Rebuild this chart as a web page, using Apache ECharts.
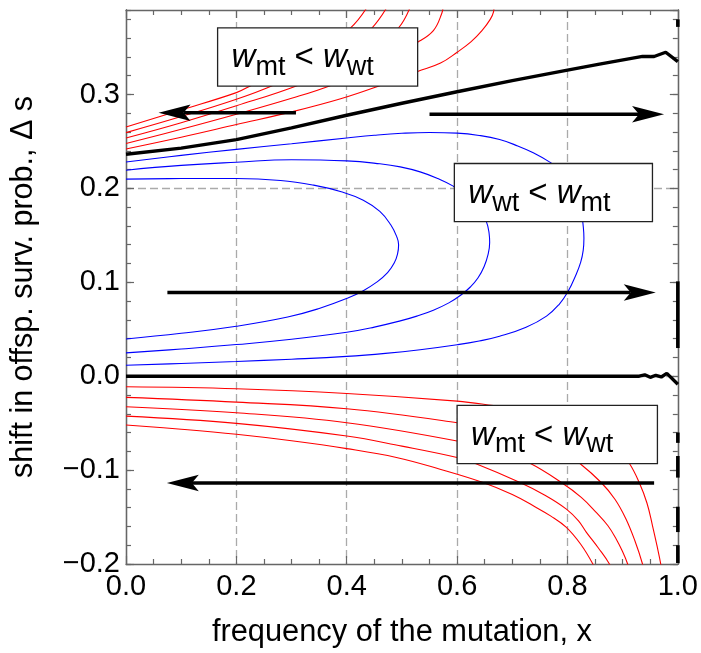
<!DOCTYPE html>
<html><head><meta charset="utf-8">
<script src="https://cdn.jsdelivr.net/npm/echarts@6/dist/echarts.min.js"></script>
<style>html,body{margin:0;padding:0;background:#fff}#c{width:701px;height:653px}</style>
</head><body><div id="c"></div>
<script>
// ---------- data ----------
const xTickLabels = ['0.0','0.2','0.4','0.6','0.8','1.0'];
const yTickLabels = ['\u22120.2','\u22120.1','0.0','0.1','0.2','0.3'];

const separatrixUpper = [[0,0.2364],[0.1,0.2429],[0.2,0.2519],[0.3,0.2644],[0.4,0.2779],[0.5,0.2907],[0.6,0.3029],[0.7,0.3147],[0.8,0.3260],[0.858,0.3324],[0.936,0.3406],[0.957,0.3405],[0.978,0.3450],[1.0,0.3350]];
const separatrixZero = [[0,0],[0.93,0],[0.94,0.0015],[0.95,-0.0012],[0.96,0.001],[0.97,-0.0008],[0.98,0.003],[1.0,-0.0085]];

const blueInner = [[0,0.2099],[0.1,0.2105],[0.2,0.2106],[0.28,0.2085],[0.34,0.2035],[0.39,0.1965],[0.43,0.1875],[0.46,0.1755],[0.48,0.161],[0.491,0.148],[0.494,0.1401],[0.492,0.1301],[0.486,0.1205],[0.474,0.1103],[0.455,0.1004],[0.43,0.0911],[0.401,0.0830],[0.35,0.0721],[0.293,0.0630],[0.2,0.0532],[0.1,0.0457],[0,0.0397]];
const blueMiddle = [[0,0.2194],[0.1,0.2245],[0.2,0.2279],[0.3,0.2305],[0.4,0.2293],[0.46,0.2262],[0.497,0.2229],[0.533,0.2176],[0.565,0.2105],[0.593,0.2024],[0.62,0.191],[0.64,0.178],[0.653,0.1646],[0.658,0.152],[0.659,0.1424],[0.656,0.1295],[0.649,0.1169],[0.638,0.1048],[0.624,0.0950],[0.607,0.0865],[0.585,0.0781],[0.557,0.0703],[0.527,0.0640],[0.497,0.0589],[0.45,0.0523],[0.4,0.0468],[0.3,0.0393],[0.2,0.0337],[0.1,0.0290],[0,0.0248]];
const blueOuter = [[0,0.2282],[0.1,0.2352],[0.2,0.2416],[0.3,0.2476],[0.4,0.2537],[0.45,0.2566],[0.5,0.2587],[0.55,0.2596],[0.6,0.2589],[0.64,0.2564],[0.677,0.2520],[0.71,0.2452],[0.738,0.2380],[0.768,0.2280],[0.785,0.2205],[0.8,0.2105],[0.81,0.199],[0.819,0.186],[0.8255,0.1725],[0.8285,0.160],[0.8298,0.147],[0.8285,0.134],[0.824,0.1215],[0.815,0.1075],[0.801,0.0902],[0.785,0.0766],[0.762,0.0640],[0.725,0.0521],[0.677,0.0425],[0.64,0.0375],[0.6,0.0335],[0.533,0.0282],[0.47,0.0243],[0.4,0.0211],[0.3,0.0181],[0.2,0.0157],[0.1,0.0136],[0,0.0117]];

const redUpper1 = [[0,0.242],[0.1,0.2545],[0.2,0.268],[0.3,0.2815],[0.389,0.2955],[0.461,0.3097],[0.5285,0.3245],[0.57,0.3335],[0.6,0.345],[0.625,0.356],[0.645,0.368],[0.66,0.38],[0.666,0.388],[0.667,0.395]];
const redUpper2 = [[0,0.2478],[0.1,0.263],[0.2,0.279],[0.3,0.296],[0.371,0.3097],[0.45,0.33],[0.5285,0.3556],[0.557,0.368],[0.572,0.386],[0.575,0.395]];
const redUpper3 = [[0,0.2537],[0.1,0.270],[0.2,0.288],[0.311,0.3097],[0.4,0.333],[0.46,0.355],[0.494,0.371],[0.515,0.393]];
const redUpper4 = [[0,0.2594],[0.1,0.2765],[0.2,0.295],[0.266,0.3097],[0.35,0.333],[0.41,0.353],[0.446,0.371],[0.473,0.393]];
const redUpper5 = [[0,0.2654],[0.1,0.2835],[0.2,0.302],[0.227,0.3097],[0.3,0.332],[0.36,0.352],[0.407,0.371],[0.437,0.393]];

const redLower1 = [[0,-0.0113],[0.2,-0.0134],[0.4,-0.0184],[0.6,-0.0265],[0.666,-0.0313],[0.75,-0.038],[0.83,-0.05],[0.88,-0.068],[0.912,-0.0927],[0.93,-0.1132],[0.944,-0.135],[0.954,-0.159],[0.962,-0.18],[0.969,-0.2],[0.971,-0.21]];
const redLower2 = [[0,-0.0226],[0.2,-0.0276],[0.4,-0.0346],[0.6,-0.0495],[0.7,-0.06],[0.78,-0.075],[0.822,-0.0927],[0.861,-0.1132],[0.886,-0.131],[0.906,-0.152],[0.922,-0.175],[0.936,-0.2],[0.939,-0.21]];
const redLower3 = [[0,-0.0325],[0.2,-0.0389],[0.4,-0.0495],[0.6,-0.069],[0.68,-0.081],[0.732,-0.0927],[0.789,-0.1132],[0.825,-0.129],[0.852,-0.145],[0.873,-0.159],[0.888,-0.173],[0.9,-0.187],[0.909,-0.2],[0.913,-0.21]];
const redLower4 = [[0,-0.0425],[0.2,-0.0502],[0.4,-0.0637],[0.5,-0.0745],[0.6,-0.0866],[0.632,-0.0927],[0.714,-0.1132],[0.76,-0.127],[0.798,-0.1415],[0.82,-0.154],[0.834,-0.166],[0.856,-0.183],[0.876,-0.2],[0.882,-0.21]];
const redLower5 = [[0,-0.052],[0.1,-0.0565],[0.2,-0.0619],[0.3,-0.0688],[0.4,-0.0771],[0.49,-0.0865],[0.569,-0.099],[0.647,-0.1132],[0.7,-0.126],[0.738,-0.138],[0.77,-0.149],[0.798,-0.161],[0.824,-0.179],[0.846,-0.2],[0.853,-0.21]];

const edgeMarks = [[0.380,0.372],[0.101,0.030],[-0.060,-0.071],[-0.085,-0.108],[-0.139,-0.166],[-0.180,-0.199]];

// annotations (arrow: x start, y, x end ; box: x0, y top, x1, y bottom)
const arrows = [[0.308,0.2805,0.059],[0.55,0.279,0.975],[0.075,0.0892,0.96],[0.957,-0.1137,0.074]];
const boxes = [[0.166,0.371,0.5285,0.309],[0.595,0.2265,0.954,0.1646],[0.6,-0.031,0.963,-0.093]];
const boxTexts = ['{w|w}{s|mt}{n| < }{w|w}{s|wt}','{w|w}{s|wt}{n| < }{w|w}{s|mt}','{w|w}{s|mt}{n| < }{w|w}{s|wt}'];

// ---------- chart ----------
const FONT = 'Liberation Sans, Arial, sans-serif';
const AX = '#666';
function fmtX(v){ const i = Math.round(v/0.2); return (Math.abs(v - i*0.2) < 1e-6 && xTickLabels[i] !== undefined) ? xTickLabels[i] : ''; }
function fmtY(v){ const i = Math.round((v+0.2)/0.1); return (Math.abs(v - (i*0.1-0.2)) < 1e-6 && yTickLabels[i] !== undefined) ? yTickLabels[i] : ''; }

function lineSeries(name, data, color, width, smooth){
  return {name, type:'line', data, showSymbol:false, symbol:'none', smooth: smooth, silent:true, clip:true,
    lineStyle:{color, width}, z: width > 2 ? 3 : 2, animation:false};
}

const chart = echarts.init(document.getElementById('c'), null, {renderer:'canvas'});
const baseY = {type:'value', min:-0.2, max:0.39, splitLine:{show:false}, axisLabel:{show:false}, axisLine:{show:true, lineStyle:{color:AX, width:1.3}}};
chart.setOption({
  backgroundColor:'#fff',
  animation:false,
  grid:{left:124, right:22, top:10, bottom:88, containLabel:false},
  xAxis:[
    {type:'value', position:'bottom', min:0, max:1, interval:0.2,
      name:'frequency of the mutation, x', nameLocation:'middle', nameGap:53,
      nameTextStyle:{fontFamily:FONT, fontSize:30.8, color:'#000'},
      axisLine:{show:true, onZero:false, lineStyle:{color:AX, width:1.3}},
      axisTick:{show:true, inside:true, length:8, lineStyle:{color:AX, width:1.2}},
      minorTick:{show:true, splitNumber:4, length:5, lineStyle:{color:AX, width:1.2}},
      axisLabel:{show:true, formatter:fmtX, fontFamily:FONT, fontSize:29, color:'#000', margin:8, showMinLabel:true, showMaxLabel:true},
      splitLine:{show:true, showMinLine:false, showMaxLine:false, lineStyle:{color:'#aaa', width:1.3, type:[8,4]}}},
    {type:'value', position:'top', min:0, max:1, interval:0.2,
      axisLine:{show:true, onZero:false, lineStyle:{color:AX, width:1.3}},
      axisTick:{show:true, inside:true, length:8, lineStyle:{color:AX, width:1.2}},
      minorTick:{show:true, splitNumber:4, length:5, lineStyle:{color:AX, width:1.2}},
      axisLabel:{show:false}, splitLine:{show:false}}
  ],
  yAxis:[
    Object.assign({}, baseY, {position:'left', interval:0.1,
      name:'shift in offsp. surv. prob., \u0394 s', nameLocation:'middle', nameRotate:90, nameGap:87,
      nameTextStyle:{fontFamily:FONT, fontSize:30.5, color:'#000'},
      axisTick:{show:true, inside:true, length:8, lineStyle:{color:AX, width:1.2}},
      axisLabel:{show:true, formatter:fmtY, fontFamily:FONT, fontSize:29, color:'#000', margin:6, showMaxLabel:false, showMinLabel:true}}),
    Object.assign({}, baseY, {position:'left', interval:0.02,
      axisTick:{show:true, inside:true, length:5, lineStyle:{color:AX, width:1.2}}}),
    Object.assign({}, baseY, {position:'right', interval:0.1,
      axisTick:{show:true, inside:true, length:8, lineStyle:{color:AX, width:1.2}}}),
    Object.assign({}, baseY, {position:'right', interval:0.02,
      axisTick:{show:true, inside:true, length:5, lineStyle:{color:AX, width:1.2}}}),
    Object.assign({}, baseY, {position:'left', interval:0.2, axisLine:{show:false}, axisTick:{show:false},
      splitLine:{show:true, showMinLine:false, showMaxLine:false, lineStyle:{color:'#aaa', width:1.3, type:[8,4]}}})
  ],
  series:[
    lineSeries('blueInner', blueInner, '#0000ff', 1.1, 0.45),
    lineSeries('blueMiddle', blueMiddle, '#0000ff', 1.1, 0.45),
    lineSeries('blueOuter', blueOuter, '#0000ff', 1.1, 0.45),
    lineSeries('redUpper1', redUpper1, '#ff0000', 1.1, 0.4),
    lineSeries('redUpper2', redUpper2, '#ff0000', 1.1, 0.4),
    lineSeries('redUpper3', redUpper3, '#ff0000', 1.1, 0.4),
    lineSeries('redUpper4', redUpper4, '#ff0000', 1.1, 0.4),
    lineSeries('redUpper5', redUpper5, '#ff0000', 1.1, 0.4),
    lineSeries('redLower1', redLower1, '#ff0000', 1.1, 0.4),
    lineSeries('redLower2', redLower2, '#ff0000', 1.1, 0.4),
    lineSeries('redLower3', redLower3, '#ff0000', 1.1, 0.4),
    lineSeries('redLower4', redLower4, '#ff0000', 1.1, 0.4),
    lineSeries('redLower5', redLower5, '#ff0000', 1.1, 0.4),
    lineSeries('separatrixUpper', separatrixUpper, '#000', 3.4, false),
    lineSeries('separatrixZero', separatrixZero, '#000', 3.4, false),
    {type:'custom', name:'edge', data:edgeMarks.map(d=>[1,d[0],d[1]]), silent:true, z:4,
      renderItem:function(params, api){
        const a = api.coord([1, api.value(1)]), b = api.coord([1, api.value(2)]);
        return {type:'line', shape:{x1:a[0], y1:a[1], x2:b[0], y2:b[1]}, style:{stroke:'#000', lineWidth:3.6}};
      }},
    {type:'custom', name:'arrows', data:arrows, silent:true, z:6,
      renderItem:function(params, api){
        const x0 = api.value(0), y = api.value(1), x1 = api.value(2);
        const p0 = api.coord([x0, y]), p1 = api.coord([x1, y]);
        const dir = p1[0] > p0[0] ? 1 : -1;
        const L = 32, W = 8.3, N = 25;
        return {type:'group', children:[
          {type:'line', shape:{x1:p0[0], y1:p0[1], x2:p1[0]-dir*N, y2:p1[1]}, style:{stroke:'#000', lineWidth:3.4}},
          {type:'polygon', shape:{points:[[p1[0],p1[1]],[p1[0]-dir*L,p1[1]-W],[p1[0]-dir*N,p1[1]],[p1[0]-dir*L,p1[1]+W]]}, style:{fill:'#000'}}
        ]};
      }},
    {type:'custom', name:'boxes', data:boxes, silent:true, z:10,
      renderItem:function(params, api){
        const a = api.coord([api.value(0), api.value(1)]), b = api.coord([api.value(2), api.value(3)]);
        return {type:'group', children:[
          {type:'rect', shape:{x:a[0], y:a[1], width:b[0]-a[0], height:b[1]-a[1]}, style:{fill:'#fff', stroke:'#222', lineWidth:1.3}},
          {type:'text', x:a[0]+14, y:(a[1]+b[1])/2+1, style:{
            text:boxTexts[params.dataIndex], align:'left', verticalAlign:'middle', fill:'#000',
            fontFamily:FONT, fontSize:33,
            rich:{
              w:{fontFamily:FONT, fontStyle:'italic', fontSize:33, fill:'#000'},
              n:{fontFamily:FONT, fontSize:33, fill:'#000'},
              s:{fontFamily:FONT, fontSize:27, fill:'#000', padding:[19,0,0,0]}
            }}}
        ]};
      }}
  ]
});
</script></body></html>
